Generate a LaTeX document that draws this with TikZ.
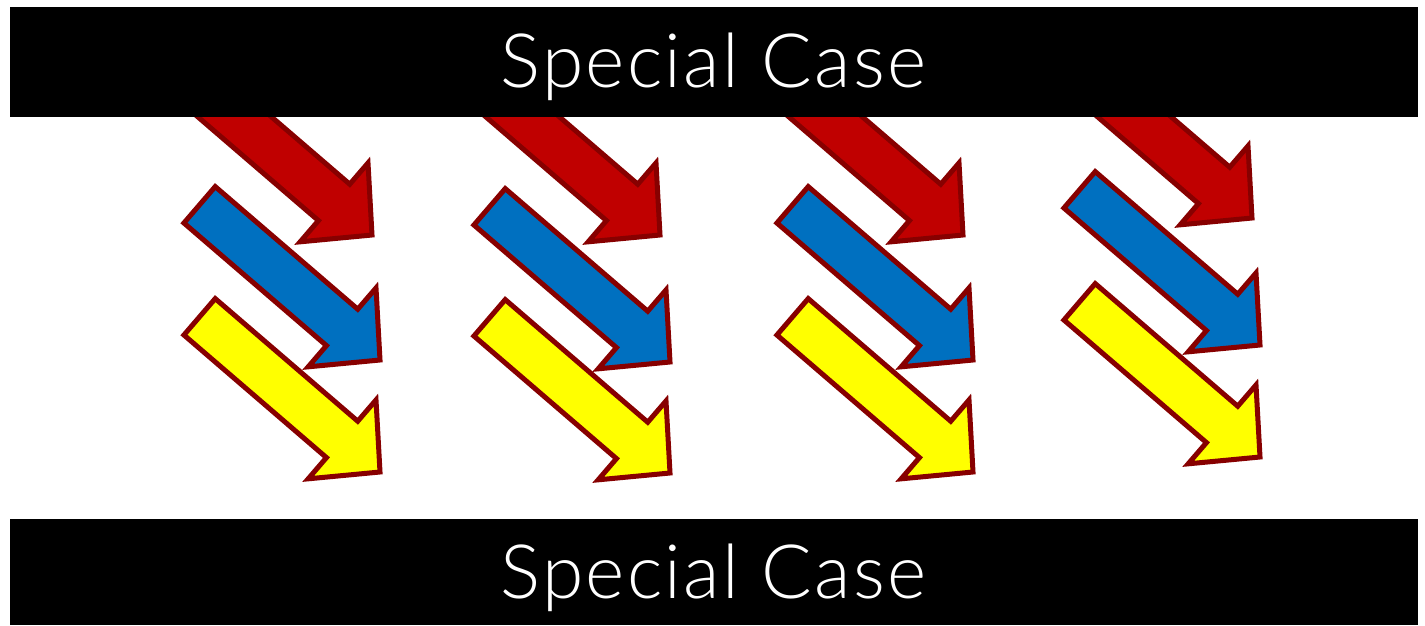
\documentclass[tikz,border=0pt]{standalone}
\usepackage{fontspec}
\setmainfont{Lato}[UprightFont={* Light}, LetterSpace=3]
\definecolor{arrred}{RGB}{192,0,0}
\definecolor{arrblue}{RGB}{0,112,192}
\definecolor{arryellow}{RGB}{255,255,0}
\definecolor{arredge}{RGB}{135,0,0}
\tikzset{
  bigarrow/.style={draw=arredge, line width=5pt, line join=miter},
  bar/.style={fill=black, draw=none},
  title/.style={text=white, font=\fontsize{75}{80}\selectfont, anchor=base, inner sep=0pt},
  pics/fatarrow/.style={code={
    \path[bigarrow, fill=#1] (0,0) -- (-50,52) -- (-50,24) -- (-238,24) -- (-238,-24) -- (-50,-24) -- (-50,-52) -- cycle;
  }}
}
\begin{document}
\begin{tikzpicture}[x=1pt,y=-1pt]
\useasboundingbox (0,0) rectangle (1425,625);
\fill[white] (0,0) rectangle (1425,625);
% red arrows (partly hidden by the top bar)
\foreach \tx/\ty in {372/235, 660/235, 963/235, 1252/218}{
  \pic[shift={(\tx,\ty)}, rotate=-40.7] {fatarrow=arrred};
}
% blue arrows
\foreach \tx/\ty in {380/360, 670/362, 973/360, 1260/345}{
  \pic[shift={(\tx,\ty)}, rotate=-40.7] {fatarrow=arrblue};
}
% yellow arrows
\foreach \tx/\ty in {380/472, 670/473, 973/472, 1260/457}{
  \pic[shift={(\tx,\ty)}, rotate=-40.7] {fatarrow=arryellow};
}
% bars
\path[bar] (10,7) rectangle (1418,117);
\path[bar] (10,519) rectangle (1418,625);
\node[title] (top) at (713.5,87) {Special Case};
\node[title] (bottom) at (713.5,598) {Special Case};
\end{tikzpicture}
\end{document}
